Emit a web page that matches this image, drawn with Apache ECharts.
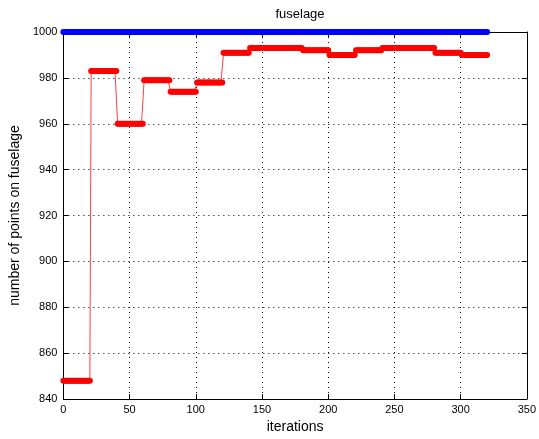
<!DOCTYPE html>
<html>
<head>
<meta charset="utf-8">
<script src="https://cdn.jsdelivr.net/npm/echarts@6/dist/echarts.min.js"></script>
<style>html,body{margin:0;padding:0;background:#fff}#c{width:539px;height:439px}</style>
</head>
<body>
<div id="c"></div>
<script>
// Data
const lastIteration = 320;
// red series: piecewise-constant steps (start iteration, value)
const redStepStarts = [0, 21, 41, 61, 81, 101, 121, 141, 181, 201, 221, 241, 281, 301];
const redStepValues = [848, 983, 960, 979, 974, 978, 991, 993, 992, 990, 992, 993, 991, 990];
// blue series: constant target
const blueValue = 1000;
const xTicks = [0, 50, 100, 150, 200, 250, 300, 350];
const yTicks = [840, 860, 880, 900, 920, 940, 960, 980, 1000];
const titleText = 'fuselage';
const xLabel = 'iterations';
const yLabel = 'number of points on fuselage';

const redData = [], blueData = [];
for (let i = 0; i <= lastIteration; i++) {
  let k = 0;
  for (let s = 0; s < redStepStarts.length; s++) if (i >= redStepStarts[s]) k = s;
  redData.push([i, redStepValues[k]]);
  blueData.push([i, blueValue]);
}

const chart = echarts.init(document.getElementById('c'));
const font = 'Liberation Sans, Arial, Helvetica, sans-serif';
const axisCommon = {
  axisLine: {show: true, onZero: false, lineStyle: {color: '#000', width: 1}},
  axisTick: {show: true, inside: true, length: 5, lineStyle: {color: '#000'}},
};
chart.setOption({
  backgroundColor: '#fff',
  animation: false,
  title: {
    text: titleText, left: 295, top: 3, textAlign: 'center',
    textStyle: {fontFamily: font, fontSize: 13, fontWeight: 'normal', color: '#000'}
  },
  grid: {left: 62, right: 10, top: 32, bottom: 38},
  xAxis: [{
    type: 'value', min: xTicks[0], max: xTicks[xTicks.length - 1], interval: 50,
    position: 'bottom', ...axisCommon,
    axisLabel: {fontFamily: font, fontSize: 11, color: '#000', margin: 5, formatter: v => String(v)},
    splitLine: {show: true, lineStyle: {color: '#000', type: [1, 4], width: 1}},
    name: xLabel, nameLocation: 'middle', nameGap: 21,
    nameTextStyle: {fontFamily: font, fontSize: 14, color: '#000'}
  }, {
    type: 'value', min: xTicks[0], max: xTicks[xTicks.length - 1], interval: 50,
    position: 'top', ...axisCommon, axisLabel: {show: false}, splitLine: {show: false}
  }],
  yAxis: [{
    type: 'value', min: yTicks[0], max: yTicks[yTicks.length - 1], interval: 20,
    position: 'left', ...axisCommon,
    axisLabel: {fontFamily: font, fontSize: 11, color: '#000', margin: 6, formatter: v => String(v)},
    splitLine: {show: true, lineStyle: {color: '#000', type: [1, 4], width: 1}},
    name: yLabel, nameLocation: 'middle', nameGap: 33,
    nameTextStyle: {fontFamily: font, fontSize: 14, color: '#000'}
  }, {
    type: 'value', min: yTicks[0], max: yTicks[yTicks.length - 1], interval: 20,
    position: 'right', ...axisCommon, axisLabel: {show: false}, splitLine: {show: false}
  }],
  series: [{
    type: 'line', data: blueData, clip: false,
    lineStyle: {color: '#0000ff', width: 1},
    symbol: 'circle', symbolSize: 6, showAllSymbol: true,
    itemStyle: {color: '#0000ff'}
  }, {
    type: 'line', data: redData, clip: false,
    lineStyle: {color: '#ff4040', width: 1},
    symbol: 'circle', symbolSize: 6, showAllSymbol: true,
    itemStyle: {color: '#ff0000'}
  }]
});
</script>
</body>
</html>
